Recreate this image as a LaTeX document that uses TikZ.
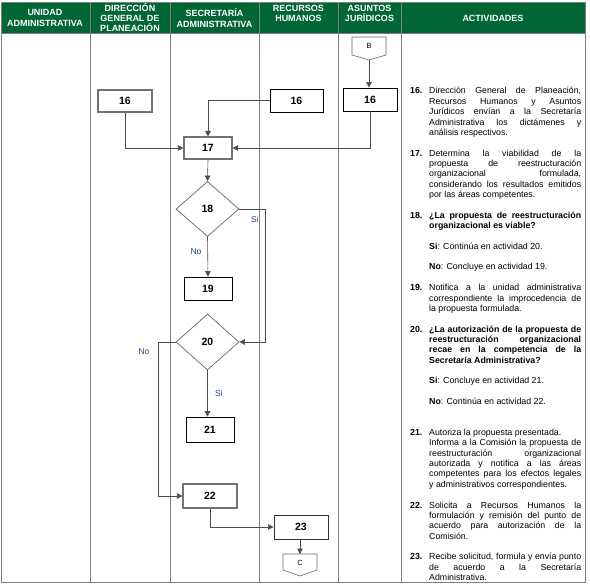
\documentclass[tikz,border=0pt]{standalone}
\usepackage{fontspec}
\setmainfont{Liberation Sans}
\usetikzlibrary{shapes.geometric,arrows.meta}
\definecolor{hdrgreen}{RGB}{0,102,51}
\definecolor{gridgray}{RGB}{128,128,128}
\definecolor{lblblue}{RGB}{31,73,125}
\newcommand\actfont{\fontsize{8.8}{10.35}\selectfont}
\newcommand\jl[1]{{\spaceskip=0pt\xspaceskip=0pt\makebox[152pt][s]{#1}}\\}
\begin{document}
\begin{tikzpicture}[x=1pt,y=-1pt,
  hdr/.style={text=white, font=\fontsize{9}{10.3}\selectfont\bfseries, align=center, inner sep=0},
  pbox/.style={draw=black, line width=0.7pt, minimum width=48pt, minimum height=23pt, inner sep=0, font=\fontsize{10.5}{12}\selectfont\bfseries},
  gbox/.style={pbox, draw=black!55, line width=1.1pt},
  dia/.style={diamond, draw=black!60, line width=0.7pt, minimum width=63pt, minimum height=55pt, inner sep=0, font=\fontsize{10.5}{12}\selectfont\bfseries},
  conn/.style={draw=black!70, line width=0.6pt, -{Triangle[length=5.5pt,width=5.5pt]}},
  lbl/.style={text=lblblue, font=\fontsize{8.5}{10}\selectfont, inner sep=0},
  act/.style={anchor=base west, inner sep=0, text width=152pt, align=justify, font=\actfont},
  num/.style={anchor=base west, inner sep=0, font=\actfont\bfseries},
  conshape/.style={draw=black!60, line width=0.6pt}
]
\useasboundingbox (0,0) rectangle (590,586);
% header
\fill[hdrgreen] (1.5,2) rectangle (585,33);
\draw[gridgray, line width=0.8pt] (1.5,2) rectangle (585,582);
\foreach \xx in {90,170,259,338,401} \draw[gridgray, line width=0.8pt] (\xx,2) -- (\xx,582);
\draw[gridgray, line width=0.8pt] (1.5,33) -- (585,33);
\node[hdr] (h1) at (45,18) {UNIDAD\\ADMINISTRATIVA};
\node[hdr] (h2) at (130,17.5) {DIRECCIÓN\\GENERAL DE\\PLANEACIÓN};
\node[hdr] (h3) at (214.5,18) {SECRETARÍA\\ADMINISTRATIVA};
\node[hdr] (h4) at (298.5,13.5) {RECURSOS\\HUMANOS};
\node[hdr] (h5) at (369.5,13.5) {ASUNTOS\\JURÍDICOS};
\node[hdr] (h6) at (493,18) {ACTIVIDADES};

% connectors B and C
\draw[conshape] (352,37) -- (386,37) -- (386,55) -- (369,60) -- (352,55) -- cycle;
\node[font=\fontsize{7.5}{9}\selectfont, inner sep=0] (B) at (369,46) {B};
\coordinate (Bt) at (369,60);
\draw[conshape] (283,554) -- (317,554) -- (317,570) -- (300,576) -- (283,570) -- cycle;
\node[font=\fontsize{7.5}{9}\selectfont, inner sep=0] (C) at (300,563) {C};
\coordinate (Ct) at (300,554);

% flow nodes
\node[gbox, minimum width=54pt, minimum height=22pt] (d16) at (125,101) {16};
\node[pbox, minimum width=53pt] (r16) at (296.5,100.5) {16};
\node[pbox, minimum width=54pt] (a16) at (370,99.5) {16};
\node[gbox, minimum height=22pt] (n17) at (208,148) {17};
\node[dia] (d18) at (207.5,209) {18};
\node[pbox] (n19) at (208,288.5) {19};
\node[dia, minimum height=56pt] (d20) at (207.5,342) {20};
\node[pbox, minimum height=25pt] (n21) at (210,429.5) {21};
\node[gbox, minimum width=54pt, minimum height=24pt] (n22) at (210,496) {22};
\node[pbox, minimum width=54pt, minimum height=24pt, draw=black!80, line width=1pt] (n23) at (301,527) {23};

% connections
\draw[conn] (Bt) -- (Bt |- a16.north);
\draw[conn] (d16.south) |- (n17.west);
\draw[conn] (r16.west) -| (n17.north);
\draw[conn] (a16.south) |- (n17.east);
\draw[conn] (n17.south) -- (d18.north);
\draw[conn] (d18.south) -- (n19.north);
\draw[conn] (d18.east) -- ++(26,0) |- (d20.east);
\draw[conn] (d20.west) -- ++(-17,0) |- (n22.west);
\draw[conn] (d20.south) -- (d20.south |- n21.north);
\draw[conn] (n22.south) |- (n23.west);
\draw[conn] (n23.south -| Ct) -- (Ct);

\node[lbl] (l1) at (255,219) {Si};
\node[lbl] (l2) at (196,252) {No};
\node[lbl] (l3) at (144,352) {No};
\node[lbl] (l4) at (219,393) {Si};

% activities
\node[num] (k16) at (410,94) {16.};
\node[act] (t16) at (429,94) {\jl{Dirección General de Planeación,}\jl{Recursos Humanos y Asuntos}\jl{Jurídicos envían a la Secretaría}\jl{Administrativa los dictámenes y}análisis respectivos.};
\node[num] (k17) at (410,156.1) {17.};
\node[act] (t17) at (429,156.1) {\jl{Determina la viabilidad de la}\jl{propuesta de reestructuración}\jl{organizacional formulada,}\jl{considerando los resultados emitidos}por las áreas competentes.};
\node[num] (k18) at (410,218.2) {18.};
\node[act, font=\actfont\bfseries] (t18) at (429,218.2) {\jl{¿La propuesta de reestructuración}organizacional es viable?};
\node[act] (s18) at (429,249.25) {\textbf{Si}: Continúa en actividad 20.};
\node[act] (o18) at (429,269.95) {\textbf{No}: Concluye en actividad 19.};
\node[num] (k19) at (410,290.65) {19.};
\node[act] (t19) at (429,290.65) {\jl{Notifica a la unidad administrativa}\jl{correspondiente la improcedencia de}la propuesta formulada.};
\node[num] (k20) at (410,332.05) {20.};
\node[act, font=\actfont\bfseries] (t20) at (429,332.05) {\jl{¿La autorización de la propuesta de}\jl{reestructuración organizacional}\jl{recae en la competencia de la}Secretaría Administrativa?};
\node[act] (s20) at (429,383.8) {\textbf{Si}: Concluye en actividad 21.};
\node[act] (o20) at (429,404.5) {\textbf{No}: Continúa en actividad 22.};
\node[num] (k21) at (410,435.55) {21.};
\node[act] (t21) at (429,435.55) {Autoriza la propuesta presentada.\\\jl{Informa a la Comisión la propuesta de}\jl{reestructuración organizacional}\jl{autorizada y notifica a las áreas}\jl{competentes para los efectos legales}y administrativos correspondientes.};
\node[num] (k22) at (410,508) {22.};
\node[act] (t22) at (429,508) {\jl{Solicita a Recursos Humanos la}\jl{formulación y remisión del punto de}\jl{acuerdo para autorización de la}Comisión.};
\node[num] (k23) at (410,559.75) {23.};
\node[act] (t23) at (429,559.75) {\jl{Recibe solicitud, formula y envía punto}\jl{de acuerdo a la Secretaría}Administrativa.};
\end{tikzpicture}
\end{document}
